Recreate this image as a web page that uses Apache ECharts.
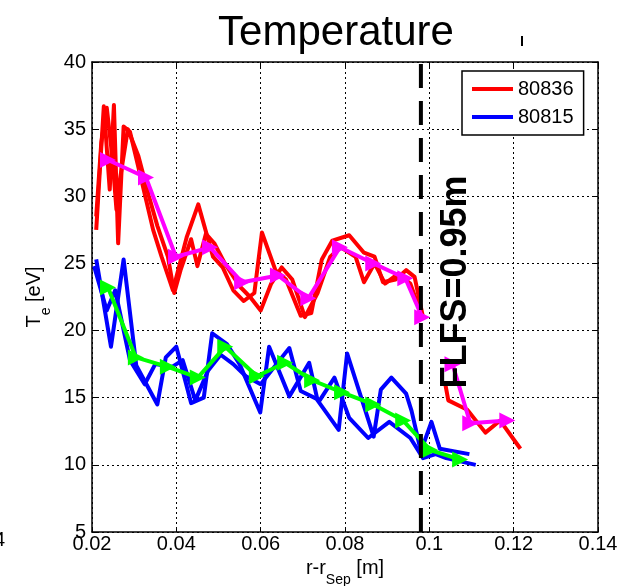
<!DOCTYPE html>
<html>
<head>
<meta charset="utf-8">
<script src="https://cdn.jsdelivr.net/npm/echarts@6/dist/echarts.min.js"></script>
<style>html,body{margin:0;padding:0;background:#fff;}#c{width:632px;height:586px;}</style>
</head>
<body>
<div id="c"></div>
<script>
// ---- data (r - r_Sep [m], Te [eV]) ----
var xTicks = [0.02, 0.04, 0.06, 0.08, 0.1, 0.12, 0.14];
var yTicks = [5, 10, 15, 20, 25, 30, 35, 40];

var red80836a = [
  [0.021,27.5],[0.0228,36.7],[0.0242,30.5],[0.0252,36.8],[0.0262,26.5],[0.0275,35.2],[0.029,34.8],
  [0.0315,31.5],[0.0345,27.5],[0.0365,25.5],[0.0392,23.0],[0.0425,27.0],[0.0452,29.4],[0.0487,25.5],
  [0.051,24.7],[0.0535,23.0],[0.056,22.2],[0.0585,22.8],[0.0603,27.3],[0.0635,24.5],[0.066,23.8],
  [0.0695,21.1],[0.072,21.3],[0.0745,25.3],[0.077,26.7],[0.081,27.1],[0.0845,25.8],[0.087,25.5],
  [0.089,23.6],[0.092,23.8],[0.0945,24.5],[0.0965,24.0],[0.0985,21.0]
];
var red80836b = [
  [0.021,28.5],[0.0222,34.0],[0.0235,36.6],[0.0248,33.0],[0.0258,29.0],[0.0265,31.0],[0.0285,35.0],
  [0.031,33.0],[0.0335,30.0],[0.0355,27.8],[0.038,25.5],[0.0395,22.8],[0.041,24.5],[0.0435,26.8],
  [0.045,24.8],[0.047,27.2],[0.049,26.5],[0.0515,25.0],[0.055,23.3],[0.0575,22.5],[0.060,21.5],
  [0.0625,23.5],[0.065,24.7],[0.0675,23.8],[0.0705,21.0],[0.0735,22.8],[0.0765,25.5],[0.079,26.2],
  [0.0825,25.5],[0.0845,23.6],[0.087,25.0],[0.0895,23.5],[0.0925,24.2],[0.0955,23.5],[0.098,21.3]
];
var red80836far = [
  [0.1038,16.0],[0.1045,14.8],[0.109,14.1],[0.1133,12.4],[0.1168,13.3],[0.1216,11.2]
];
var blue80815a = [
  [0.021,25.3],[0.0245,18.8],[0.0275,25.3],[0.0305,17.4],[0.0355,14.5],[0.0375,18.0],[0.040,18.8],
  [0.0435,14.6],[0.0465,15.0],[0.0485,19.8],[0.052,19.0],[0.055,17.5],[0.0599,13.9],[0.062,18.8],
  [0.0668,15.1],[0.0715,17.6],[0.0735,14.8],[0.0785,12.6],[0.0805,18.3],[0.0868,12.1],[0.0885,15.6],
  [0.091,16.5],[0.0945,15.3],[0.0958,14.0],[0.098,11.0],[0.1005,13.2],[0.1025,11.2],[0.1095,10.8]
];
var blue80815b = [
  [0.0205,24.8],[0.0235,21.5],[0.0255,23.0],[0.029,17.8],[0.0325,16.0],[0.035,17.5],[0.039,17.3],
  [0.0415,17.8],[0.0445,14.8],[0.0475,17.0],[0.0505,18.2],[0.0535,17.5],[0.0565,16.6],[0.060,16.0],
  [0.0645,17.8],[0.0668,18.7],[0.0695,15.5],[0.074,14.8],[0.0775,16.5],[0.081,13.5],[0.0855,12.0],
  [0.0905,13.2],[0.0955,12.0],[0.0985,10.5],[0.1015,10.8],[0.104,10.5],[0.111,10.0]
];
var magentaFit = [
  [0.0238,32.7],[0.0328,31.4],[0.0399,25.5],[0.048,26.2],[0.0556,23.6],[0.0641,24.1],[0.0713,22.4],
  [0.0788,26.2],[0.0867,25.0],[0.0943,23.9],[0.0983,21.0]
];
var magentaFar = [
  [0.1055,17.5],[0.1097,13.1],[0.1185,13.3]
];
var greenFit = [
  [0.0238,23.2],[0.0304,18.0],[0.038,17.3],[0.0451,16.5],[0.0516,18.8],[0.0591,16.6],[0.0658,17.6],
  [0.0722,16.3],[0.0793,15.4],[0.0867,14.5],[0.0938,13.3],[0.1002,11.1],[0.1073,10.4]
];
var flfsLine = [[0.098,5],[0.098,40]];
var legendNames = ['80836', '80815'];

var FONT = '"Liberation Sans", Arial, sans-serif';

function rawLine(name, data, color, w) {
  return { name: name, type: 'line', data: data, symbol: 'none', animation: false,
    lineStyle: { color: color, width: w, join: 'round' }, itemStyle: { color: color }, z: 2 };
}
function fitLine(name, data, color) {
  return { name: name, type: 'line', data: data, symbol: 'triangle', symbolRotate: -90,
    symbolSize: 16, animation: false, showAllSymbol: true,
    lineStyle: { color: color, width: 4 }, itemStyle: { color: color }, z: 3 };
}

var chart = echarts.init(document.getElementById('c'), null, { renderer: 'canvas' });
chart.setOption({
  backgroundColor: '#ffffff',
  animation: false,
  title: {
    text: 'Temperature', left: 331, top: 7, textAlign: 'center',
    textStyle: { fontFamily: FONT, fontSize: 42, fontWeight: 'normal', color: '#000' }
  },
  legend: {
    data: legendNames, orient: 'vertical', left: 462, top: 71,
    padding: [8, 10, 8, 10], itemGap: 8, itemWidth: 41, itemHeight: 4, icon: 'rect',
    backgroundColor: '#fff', borderColor: '#000', borderWidth: 1.5, borderRadius: 0,
    textStyle: { fontFamily: FONT, fontSize: 20, color: '#000' }
  },
  grid: { left: 92, right: 34, top: 62, bottom: 54, containLabel: false, outerBoundsMode: 'none' },
  xAxis: [{
    type: 'value', min: 0.02, max: 0.14, interval: 0.02,
    name: '{a|r-r}{s|Sep}{a| [m]}', nameLocation: 'middle', nameGap: 24,
    nameTextStyle: { rich: {
      a: { fontFamily: FONT, fontSize: 20, color: '#000', verticalAlign: 'top' },
      s: { fontFamily: FONT, fontSize: 14, color: '#000', padding: [14, 0, 0, 0] } } },
    axisLine: { show: true, lineStyle: { color: '#000', width: 1.5 } },
    axisTick: { show: true, inside: true, length: 5, lineStyle: { color: '#000' } },
    axisLabel: { fontFamily: FONT, fontSize: 20, color: '#000', margin: 2,
      formatter: function (v) { return String(Math.round(v * 100) / 100); } },
    splitLine: { show: true, lineStyle: { color: '#000', type: [2, 3], width: 1 } }
  }, {
    type: 'value', min: 0.02, max: 0.14, interval: 0.02, position: 'top',
    axisLine: { show: true, lineStyle: { color: '#000', width: 1.5 } },
    axisTick: { show: true, inside: true, length: 5, lineStyle: { color: '#000' } },
    axisLabel: { show: false }, splitLine: { show: false }
  }],
  yAxis: [{
    type: 'value', min: 5, max: 40, interval: 5,
    name: '{a|T}{s|e}{a| [eV]}', nameLocation: 'middle', nameGap: 37, nameRotate: 90,
    nameTextStyle: { rich: {
      a: { fontFamily: FONT, fontSize: 20, color: '#000', verticalAlign: 'top' },
      s: { fontFamily: FONT, fontSize: 14, color: '#000', padding: [14, 0, 0, 0] } } },
    axisLine: { show: true, lineStyle: { color: '#000', width: 1.5 } },
    axisTick: { show: true, inside: true, length: 5, lineStyle: { color: '#000' } },
    axisLabel: { fontFamily: FONT, fontSize: 20, color: '#000', margin: 6 },
    splitLine: { show: true, lineStyle: { color: '#000', type: [2, 3], width: 1 } }
  }, {
    type: 'value', min: 5, max: 40, interval: 5, position: 'right',
    axisLine: { show: true, lineStyle: { color: '#000', width: 1.5 } },
    axisTick: { show: true, inside: true, length: 5, lineStyle: { color: '#000' } },
    axisLabel: { show: false }, splitLine: { show: false }
  }],
  series: [
    rawLine('80836', red80836a, '#ff0000', 4),
    rawLine('80836', red80836b, '#ff0000', 4),
    rawLine('80836', red80836far, '#ff0000', 4),
    rawLine('80815', blue80815a, '#0000ff', 4),
    rawLine('80815', blue80815b, '#0000ff', 4),
    fitLine('fit80836', magentaFit, '#ff00ff'),
    fitLine('fit80836far', magentaFar, '#ff00ff'),
    fitLine('fit80815', greenFit, '#00ff00'),
    { name: 'FLFS', type: 'line', data: flfsLine, symbol: 'none', animation: false, z: 4,
      lineStyle: { color: '#000', width: 4, type: [24, 13] } }
  ],
  graphic: [
    { type: 'text', rotation: Math.PI / 2, z: 10, x: 456, y: 282,
      style: { text: 'FLFS=0.95m', fontFamily: FONT, fontSize: 36, fontWeight: 'bold',
        fill: '#000', align: 'center', verticalAlign: 'middle' } },
    { type: 'text', x: -6, y: 530, style: { text: '4', fontFamily: FONT, fontSize: 20, fill: '#000' } },
    { type: 'line', shape: { x1: 522, y1: 36, x2: 522, y2: 46 }, style: { stroke: '#000', lineWidth: 2 } }
  ]
});
</script>
</body>
</html>
